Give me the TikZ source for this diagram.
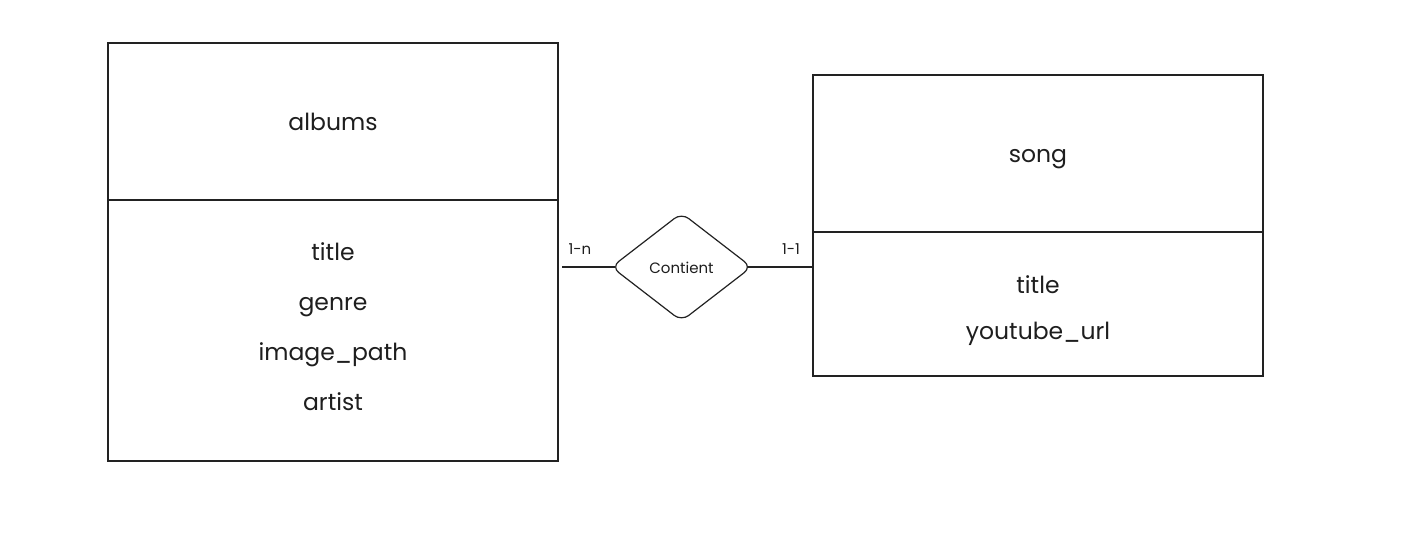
\documentclass[tikz,border=0pt]{standalone}
\usepackage{fontspec}
\setmainfont{Poppins}[Ligatures={NoCommon}]
\usetikzlibrary{shapes.geometric}
\definecolor{ink}{HTML}{222222}
\definecolor{txt}{HTML}{1E1E1E}
\begin{document}
\begin{tikzpicture}[x=1pt,y=-1pt,
  entity/.style={draw=ink, line width=1.2pt, inner sep=0pt, outer sep=0pt, anchor=north west},
  attr/.style={text=txt, font=\fontsize{23.5}{28}\selectfont, anchor=base, inner sep=0pt},
  small/.style={text=txt, font=\fontsize{15}{18}\selectfont, anchor=base, inner sep=0pt},
  rel/.style={draw=ink, line width=1.2pt, shape=diamond, minimum width=140pt, minimum height=108pt, inner sep=0pt, outer sep=0pt, rounded corners=9pt},
  link/.style={draw=ink, line width=1.2pt}]
\useasboundingbox (0,0) rectangle (1411,536);
\fill[white] (0,0) rectangle (1411,536);
% albums entity
\node[entity, minimum width=450pt, minimum height=418pt] (albums) at (108,43) {};
\draw[link] (albums.west |- 0,200) -- (albums.east |- 0,200);
\node[attr] (an) at (333,130) {albums};
\node[attr] (a1) at (333,260) {title};
\node[attr] (a2) at (333,310) {genre};
\node[attr] (a3) at (333,360) {image\_path};
\node[attr] (a4) at (333,410) {artist};
% song entity
\node[entity, minimum width=450pt, minimum height=301pt] (song) at (813,75) {};
\draw[link] (song.west |- 0,232) -- (song.east |- 0,232);
\node[attr] (sn) at (1038,162) {song};
\node[attr] (s1) at (1038,293) {title};
\node[attr] (s2) at (1038,339) {youtube\_url};
% relation
\node[rel] (dia) at (681.5,267) {};
\node[small] (dl) at (681.5,273) {Contient};
\coordinate (lend) at (562,267);
\draw[link] (lend) -- ([xshift=3.5pt]dia.west);
\draw[link] ([xshift=-3.5pt]dia.east) -- (dia.east -| song.west);
\node[small] (c1) at (580,254) {1-n};
\node[small] (c2) at (791,254) {1-1};
\end{tikzpicture}
\end{document}
